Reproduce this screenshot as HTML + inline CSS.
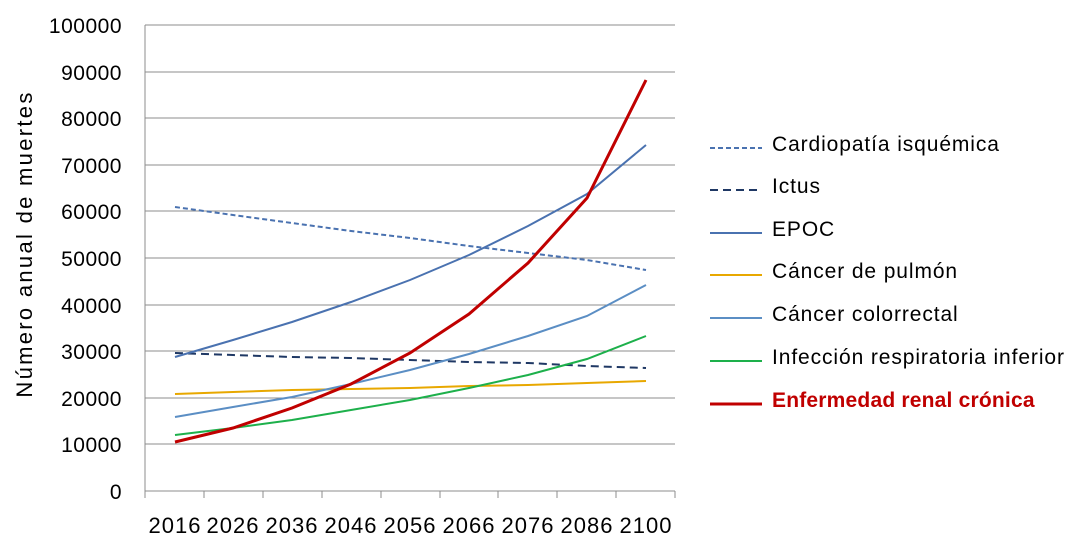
<!DOCTYPE html>
<html><head><meta charset="utf-8"><style>body{margin:0;background:#fff}svg{display:block;font-family:"Liberation Sans",sans-serif}</style></head><body>
<svg width="1083" height="551" xmlns="http://www.w3.org/2000/svg">
<g stroke="#8c8c8c" stroke-width="1">
<line x1="145" y1="25" x2="675" y2="25"/><line x1="145" y1="72" x2="675" y2="72"/><line x1="145" y1="118" x2="675" y2="118"/><line x1="145" y1="165" x2="675" y2="165"/><line x1="145" y1="211" x2="675" y2="211"/><line x1="145" y1="258" x2="675" y2="258"/><line x1="145" y1="305" x2="675" y2="305"/><line x1="145" y1="351" x2="675" y2="351"/><line x1="145" y1="398" x2="675" y2="398"/><line x1="145" y1="444" x2="675" y2="444"/><line x1="145" y1="491" x2="675" y2="491"/>
<line x1="145" y1="25" x2="145" y2="498"/>
<line x1="204" y1="491" x2="204" y2="498"/><line x1="263" y1="491" x2="263" y2="498"/><line x1="322" y1="491" x2="322" y2="498"/><line x1="381" y1="491" x2="381" y2="498"/><line x1="440" y1="491" x2="440" y2="498"/><line x1="498" y1="491" x2="498" y2="498"/><line x1="557" y1="491" x2="557" y2="498"/><line x1="616" y1="491" x2="616" y2="498"/><line x1="675" y1="491" x2="675" y2="498"/>
</g>
<g font-size="21" text-anchor="end" fill="#000" letter-spacing="0.5">
<text x="122" y="33">100000</text><text x="122" y="80">90000</text><text x="122" y="126">80000</text><text x="122" y="173">70000</text><text x="122" y="219">60000</text><text x="122" y="266">50000</text><text x="122" y="313">40000</text><text x="122" y="359">30000</text><text x="122" y="406">20000</text><text x="122" y="452">10000</text><text x="122" y="499">0</text>
</g>
<g font-size="22" text-anchor="middle" letter-spacing="1">
<text x="175" y="533">2016</text><text x="233" y="533">2026</text><text x="292" y="533">2036</text><text x="351" y="533">2046</text><text x="410" y="533">2056</text><text x="469" y="533">2066</text><text x="528" y="533">2076</text><text x="587" y="533">2086</text><text x="646" y="533">2100</text>
</g>
<text transform="translate(32,244) rotate(-90)" font-size="22" text-anchor="middle" letter-spacing="2.3">Número anual de muertes</text>
<g fill="none" stroke-width="2">
<polyline stroke="#4a72b0" stroke-dasharray="5,3" points="175,207 233,215 292,223 351,231 410,238 469,246 528,253 587,260 646,270"/>
<polyline stroke="#1f3864" stroke-dasharray="8,5" points="175,353 233,355 292,357 351,358 410,360 469,362 528,363 587,366 646,368"/>
<polyline stroke="#4a72b0" points="175,357 233,340 292,322 351,302 410,280 469,255 528,226 587,194 646,145"/>
<polyline stroke="#e8a800" points="175,394 233,392 292,390 351,389 410,388 469,386 528,385 587,383 646,381"/>
<polyline stroke="#5b8ec4" points="175,417 233,407 292,397 351,384 410,370 469,354 528,336 587,316 646,285"/>
<polyline stroke="#1db04b" points="175,435 233,428 292,420 351,410 410,400 469,388 528,375 587,359 646,336"/>
<polyline stroke="#c00000" stroke-width="3" points="175,442 233,428 292,408 351,384 410,353 469,314 528,263 587,198 646,80"/>
</g>
<g stroke-width="2">
<line x1="710" y1="148" x2="762" y2="148" stroke="#4a72b0" stroke-dasharray="5,3"/>
<line x1="710" y1="190" x2="762" y2="190" stroke="#1f3864" stroke-dasharray="8,5"/>
<line x1="710" y1="233" x2="762" y2="233" stroke="#4a72b0"/>
<line x1="710" y1="275" x2="762" y2="275" stroke="#e8a800"/>
<line x1="710" y1="318" x2="762" y2="318" stroke="#5b8ec4"/>
<line x1="710" y1="361" x2="762" y2="361" stroke="#1db04b"/>
<line x1="710" y1="404" x2="762" y2="404" stroke="#c00000" stroke-width="3"/>
</g>
<g font-size="21" letter-spacing="0.9">
<text x="772" y="151">Cardiopatía isquémica</text>
<text x="772" y="193">Ictus</text>
<text x="772" y="236">EPOC</text>
<text x="772" y="278">Cáncer de pulmón</text>
<text x="772" y="321">Cáncer colorrectal</text>
<text x="772" y="364">Infección respiratoria inferior</text>
<text x="772" y="407" fill="#c00000" font-weight="bold" letter-spacing="0.2">Enfermedad renal crónica</text>
</g>
</svg>
</body></html>
